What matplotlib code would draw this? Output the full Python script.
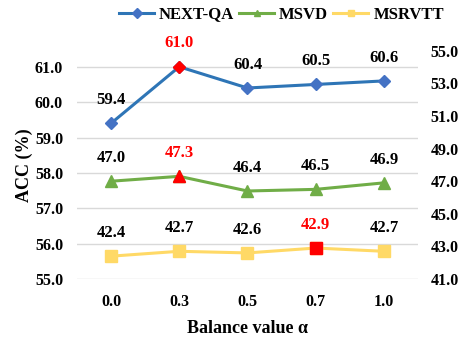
import matplotlib
matplotlib.use("Agg")
import matplotlib.pyplot as plt

plt.rcParams['font.family'] = ['Liberation Serif', 'DejaVu Serif']
plt.rcParams['font.weight'] = 'bold'

categories = ["0.0", "0.3", "0.5", "0.7", "1.0"]
nextqa = [59.4, 61.0, 60.4, 60.5, 60.6]
msvd = [47.0, 47.3, 46.4, 46.5, 46.9]
msrvtt = [42.4, 42.7, 42.6, 42.9, 42.7]
left_ticks = [55.0, 56.0, 57.0, 58.0, 59.0, 60.0, 61.0]
right_ticks = [41.0, 43.0, 45.0, 47.0, 49.0, 51.0, 53.0, 55.0]

best_nextqa = 1
best_msvd = 1
best_msrvtt = 3

BLUE_LINE = "#2E75B6"
BLUE_MK = "#4472C4"
GREEN = "#70AD47"
YELLOW = "#FFD966"
RED = "#FF0000"

fig = plt.figure(figsize=(4.66, 3.39), dpi=100)
ax = fig.add_axes([0.165, 0.177, 0.732, 0.673])
ax2 = ax.twinx()

x = list(range(len(categories)))

ax.set_ylim(55.0, 61.45)
ax2.set_ylim(41.0, 55.0)
ax.set_xlim(-0.5, len(categories) - 0.5)

for a in (ax, ax2):
    for s in a.spines.values():
        s.set_visible(False)
    a.tick_params(length=0)

ax.set_yticks(left_ticks)
ax.set_yticklabels([f"{v:.1f}" for v in left_ticks], fontsize=11.5, fontweight='bold')
ax.tick_params(axis='y', pad=10)
ax2.set_yticks(right_ticks)
ax2.set_yticklabels([f"{v:.1f}" for v in right_ticks], fontsize=11.5, fontweight='bold')
ax2.tick_params(axis='y', pad=9)
ax.set_xticks(x)
ax.set_xticklabels(categories, fontsize=11.5, fontweight='bold')
ax.tick_params(axis='x', pad=11)

ax.grid(axis='y', color="#D9D9D9", linewidth=1.0)
ax.set_axisbelow(True)

def draw(axis, vals, color, mkcolor, marker, ms, best, label):
    axis.plot(x, vals, color=color, linewidth=2.2, marker=marker, markersize=ms,
              markerfacecolor=mkcolor, markeredgecolor=mkcolor, label=label, zorder=3)
    axis.plot([x[best]], [vals[best]], linestyle='none', marker=marker, markersize=ms,
              markerfacecolor=RED, markeredgecolor=RED, zorder=4)
    for i, v in enumerate(vals):
        axis.annotate(f"{v:.1f}", (x[i], v), xytext=(0, 11), textcoords='offset points',
                      ha='center', va='bottom', fontsize=12, fontweight='bold',
                      color=RED if i == best else 'black')

draw(ax, nextqa, BLUE_LINE, BLUE_MK, 'D', 6, best_nextqa, "NEXT-QA")
draw(ax2, msvd, GREEN, GREEN, '^', 8, best_msvd, "MSVD")
draw(ax2, msrvtt, YELLOW, YELLOW, 's', 8, best_msrvtt, "MSRVTT")

ax.set_ylabel("ACC (%)", fontsize=13, fontweight='bold', labelpad=1)
ax.set_xlabel("Balance value α", fontsize=13, fontweight='bold', labelpad=7)

h1, l1 = ax.get_legend_handles_labels()
h2, l2 = ax2.get_legend_handles_labels()
leg = fig.legend(h1 + h2, l1 + l2, loc='upper right', bbox_to_anchor=(0.985, 1.025), ncol=3,
                 frameon=False, handlelength=2.1, handletextpad=0.3,
                 columnspacing=0.3, prop={'weight': 'bold', 'size': 12})
for h in leg.legend_handles:
    h.set_markersize(5)

fig.savefig("out.png", dpi=100)
